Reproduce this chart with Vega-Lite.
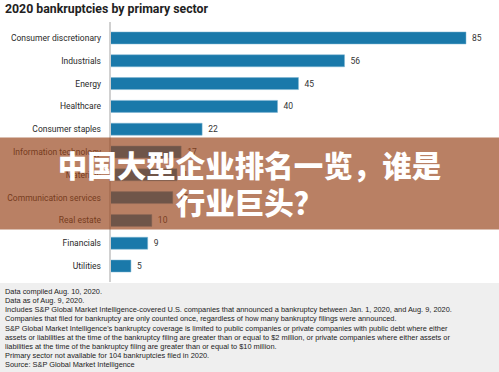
{
  "$schema": "https://vega.github.io/schema/vega-lite/v6.json",
  "background": "white",
  "padding": {"top": 3, "left": 0, "right": 0, "bottom": 0},
  "spacing": 0,
  "config": {"view": {"stroke": null}},
  "datasets": {
    "sectors": [
      {"sector": "Consumer discretionary", "count": 85},
      {"sector": "Industrials", "count": 56},
      {"sector": "Energy", "count": 45},
      {"sector": "Healthcare", "count": 40},
      {"sector": "Consumer staples", "count": 22},
      {"sector": "Information technology", "count": 17},
      {"sector": "Materials", "count": 16},
      {"sector": "Communication services", "count": 15},
      {"sector": "Real estate", "count": 10},
      {"sector": "Financials", "count": 9},
      {"sector": "Utilities", "count": 5}
    ],
    "banner": [
      {"from": "Consumer staples", "to": "Real estate", "text": ["中国大型企业排名一览，谁是", "行业巨头？"]}
    ],
    "notes": [
      {"i": 1, "line": "Data compiled Aug. 10, 2020."},
      {"i": 2, "line": "Data as of Aug. 9, 2020."},
      {"i": 3, "line": "Includes S&P Global Market Intelligence-covered U.S. companies that announced a bankruptcy between Jan. 1, 2020, and Aug. 9, 2020."},
      {"i": 4, "line": "Companies that filed for bankruptcy are only counted once, regardless of how many bankruptcy filings were announced."},
      {"i": 5, "line": "S&P Global Market Intelligence's bankruptcy coverage is limited to public companies or private companies with public debt where either"},
      {"i": 6, "line": "assets or liabilities at the time of the bankruptcy filing are greater than or equal to $2 million, or private companies where either assets or"},
      {"i": 7, "line": "liabilities at the time of the bankruptcy filing are greater than or equal to $10 million."},
      {"i": 8, "line": "Primary sector not available for 104 bankruptcies filed in 2020."},
      {"i": 9, "line": "Source: S&P Global Market Intelligence"}
    ]
  },
  "vconcat": [
    {
      "width": 499,
      "height": 260,
      "title": {"text": "2020 bankruptcies by primary sector", "anchor": "start", "fontSize": 12.3, "fontWeight": "bold", "font": "Roboto", "color": "#222222", "offset": 6, "dx": 5},
      "encoding": {
        "y": {
          "field": "sector", "type": "nominal", "axis": null,
          "scale": {
            "domain": ["Consumer discretionary", "Industrials", "Energy", "Healthcare", "Consumer staples", "Information technology", "Materials", "Communication services", "Real estate", "Financials", "Utilities"],
            "paddingInner": 0.474, "paddingOuter": 0.437
          }
        }
      },
      "layer": [
        {
          "data": {"name": "sectors"},
          "mark": {"type": "bar", "color": "#1a79aa", "stroke": "#7fb6d2", "strokeWidth": 0.5},
          "encoding": {
            "x": {"field": "count", "type": "quantitative", "axis": null, "scale": {"domain": [-26.26, 92.88], "nice": false, "zero": false}}
          }
        },
        {
          "data": {"name": "sectors"},
          "mark": {"type": "rule", "color": "#d0d0d0", "strokeWidth": 1},
          "encoding": {"x": {"datum": 0, "type": "quantitative"}, "y": null}
        },
        {
          "data": {"name": "sectors"},
          "mark": {"type": "text", "align": "left", "baseline": "middle", "dx": 6, "fontSize": 8.5, "font": "Roboto", "color": "#333333"},
          "encoding": {
            "x": {"field": "count", "type": "quantitative"},
            "text": {"field": "count", "type": "quantitative"}
          }
        },
        {
          "data": {"name": "sectors"},
          "mark": {"type": "text", "align": "right", "baseline": "middle", "dx": -9, "fontSize": 8.5, "font": "Roboto", "color": "#2a2a2a"},
          "encoding": {
            "x": {"datum": 0, "type": "quantitative"},
            "text": {"field": "sector", "type": "nominal"}
          }
        },
        {
          "data": {"name": "banner"},
          "mark": {"type": "rect", "color": "#98441b", "opacity": 0.68},
          "encoding": {
            "x": {"datum": -26.26, "type": "quantitative"},
            "x2": {"datum": 92.88},
            "y": {"field": "from", "type": "nominal", "bandPosition": 1.2},
            "y2": {"field": "to", "bandPosition": 1.25}
          }
        },
        {
          "data": {"name": "banner"},
          "mark": {"type": "text", "align": "center", "baseline": "middle", "dy": -6.5, "lineHeight": 37, "fontSize": 29.5, "fontWeight": 900, "font": "Noto Sans CJK SC", "color": "white"},
          "encoding": {
            "y": {"datum": "Materials", "type": "nominal"},
            "text": {"field": "text"}
          }
        }
      ]
    },
    {
      "width": 499,
      "height": 91,
      "view": {"fill": "#efefef", "stroke": null},
      "data": {"name": "notes"},
      "mark": {"type": "text", "align": "left", "baseline": "middle", "dx": 5, "fontSize": 7.4, "font": "Liberation Sans", "color": "#222222"},
      "encoding": {
        "x": {"datum": 0, "type": "quantitative", "scale": {"domain": [0, 1]}, "axis": null},
        "y": {"field": "i", "type": "ordinal", "scale": {"type": "point", "padding": 1.16}, "axis": null},
        "text": {"field": "line"}
      }
    }
  ]
}
